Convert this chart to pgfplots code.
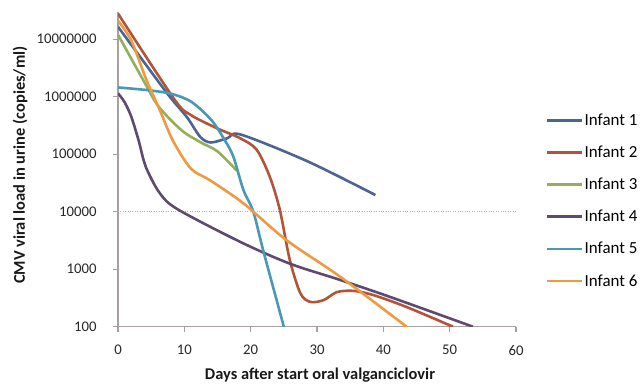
\documentclass[border=0pt]{standalone}
\usepackage{fontspec}
\setmainfont{Carlito}
\usepackage{pgfplots}
\pgfplotsset{compat=1.18}
\definecolor{axisgray}{HTML}{A9A1A1}
\definecolor{cone}{HTML}{4A6591}
\definecolor{ctwo}{HTML}{B0553A}
\definecolor{cthree}{HTML}{95AE5A}
\definecolor{cfour}{HTML}{5E4A6E}
\definecolor{cfive}{HTML}{4A98B5}
\definecolor{csix}{HTML}{EE9A42}
\begin{document}
\begin{tikzpicture}
\useasboundingbox (0,0) rectangle (643bp,385bp);
\begin{axis}[
  at={(118bp,58.3bp)}, anchor=south west,
  scale only axis, width=398bp, height=314.9bp,
  ymode=log, xmin=0, xmax=60, ymin=100, ymax=3e7,
  axis x line*=bottom, axis y line*=left,
  axis line style={draw=axisgray, line width=1.2bp},
  xtick={0,10,20,30,40,50,60}, xticklabels={0,10,20,30,40,50,60},
  ytick={100,1000,10000,100000,1000000,10000000},
  yticklabels={100,1000,10000,100000,1000000,10000000},
  yminorticks=false, xminorticks=false,
  tick align=outside, major tick length=5bp,
  tick style={draw=axisgray, line width=1.2bp},
  ticklabel style={font=\fontsize{14.8}{17}\selectfont, text=black!85},
  xticklabel style={yshift=-10bp},
  yticklabel style={xshift=-13bp},
  extra y ticks={10000}, extra y tick labels={},
  extra y tick style={grid=major, major tick length=0pt,
    major grid style={draw=black!30, dotted, line width=1.2bp}},
  xlabel={\textbf{Days after start oral valganciclovir}},
  ylabel={\textbf{CMV viral load in urine (copies/ml)}},
  label style={font=\fontsize{16.5}{19}\selectfont, text=black!90},
  xlabel style={at={(axis description cs:0.5075,-0.153)}, anchor=center},
  ylabel style={at={(axis description cs:-0.246,0.513)}, anchor=center},
  legend style={at={(axis description cs:1.075,0.40)}, anchor=west, draw=none, fill=none,
    font=\fontsize{17}{20}\selectfont, row sep=17bp, inner sep=0pt,
    nodes={inner sep=1bp}},
  legend cell align=left,
  legend image code/.code={\draw[#1, line width=2.6bp] (0bp,0bp) -- (35bp,0bp);},
  every axis plot/.append style={line width=2.6bp, smooth},
]
\addplot[cone] coordinates {(0,1.65e7)(7.4,1.15e6)(10.4,4.4e5)(12.4,2e5)(14,1.6e5)(16.5,1.9e5)(18.5,2.2e5)(28.6,7.5e4)(38.8,1.95e4)};
\addlegendentry{Infant 1}
\addplot[ctwo] coordinates {(0,2.8e7)(8.5,9e5)(11,4.8e5)(15,2.8e5)(18.4,1.9e5)(20.9,1.2e5)(22.9,4e4)(24.4,1.07e4)(25.9,1450)(27.5,380)(29,270)(31,290)(33,400)(35.5,420)(38.5,355)(43.5,220)(50.5,100)};
\addlegendentry{Infant 2}
\addplot[cthree] coordinates {(0,1.2e7)(3.8,1.95e6)(6.1,6.8e5)(9.6,2.6e5)(12.5,1.6e5)(15,1.12e5)(17.9,5.2e4)};
\addlegendentry{Infant 3}
\addplot[cfour] coordinates {(0,1.15e6)(1,8e5)(2,4.5e5)(3.1,1.75e5)(4.2,6e4)(6.3,2.1e4)(9,1.1e4)(18.4,3e3)(25.9,1250)(33.5,650)(41,330)(53.5,100)};
\addlegendentry{Infant 4}
\addplot[cfive] coordinates {(0,1.45e6)(4.5,1.3e6)(8.1,1.12e6)(11.1,8.1e5)(14.1,3.9e5)(16.1,1.75e5)(17.4,9e4)(18.9,2.4e4)(20.4,1e4)(21.9,2.1e3)(25,100)};
\addlegendentry{Infant 5}
\addplot[csix] coordinates {(0,2.1e7)(2,9.5e6)(4.3,1.95e6)(6.4,5.5e5)(8.3,1.7e5)(11,5.6e4)(13.9,3.5e4)(18.9,1.4e4)(25.4,3200)(33.5,740)(43.5,100)};
\addlegendentry{Infant 6}
\end{axis}
\end{tikzpicture}
\end{document}
